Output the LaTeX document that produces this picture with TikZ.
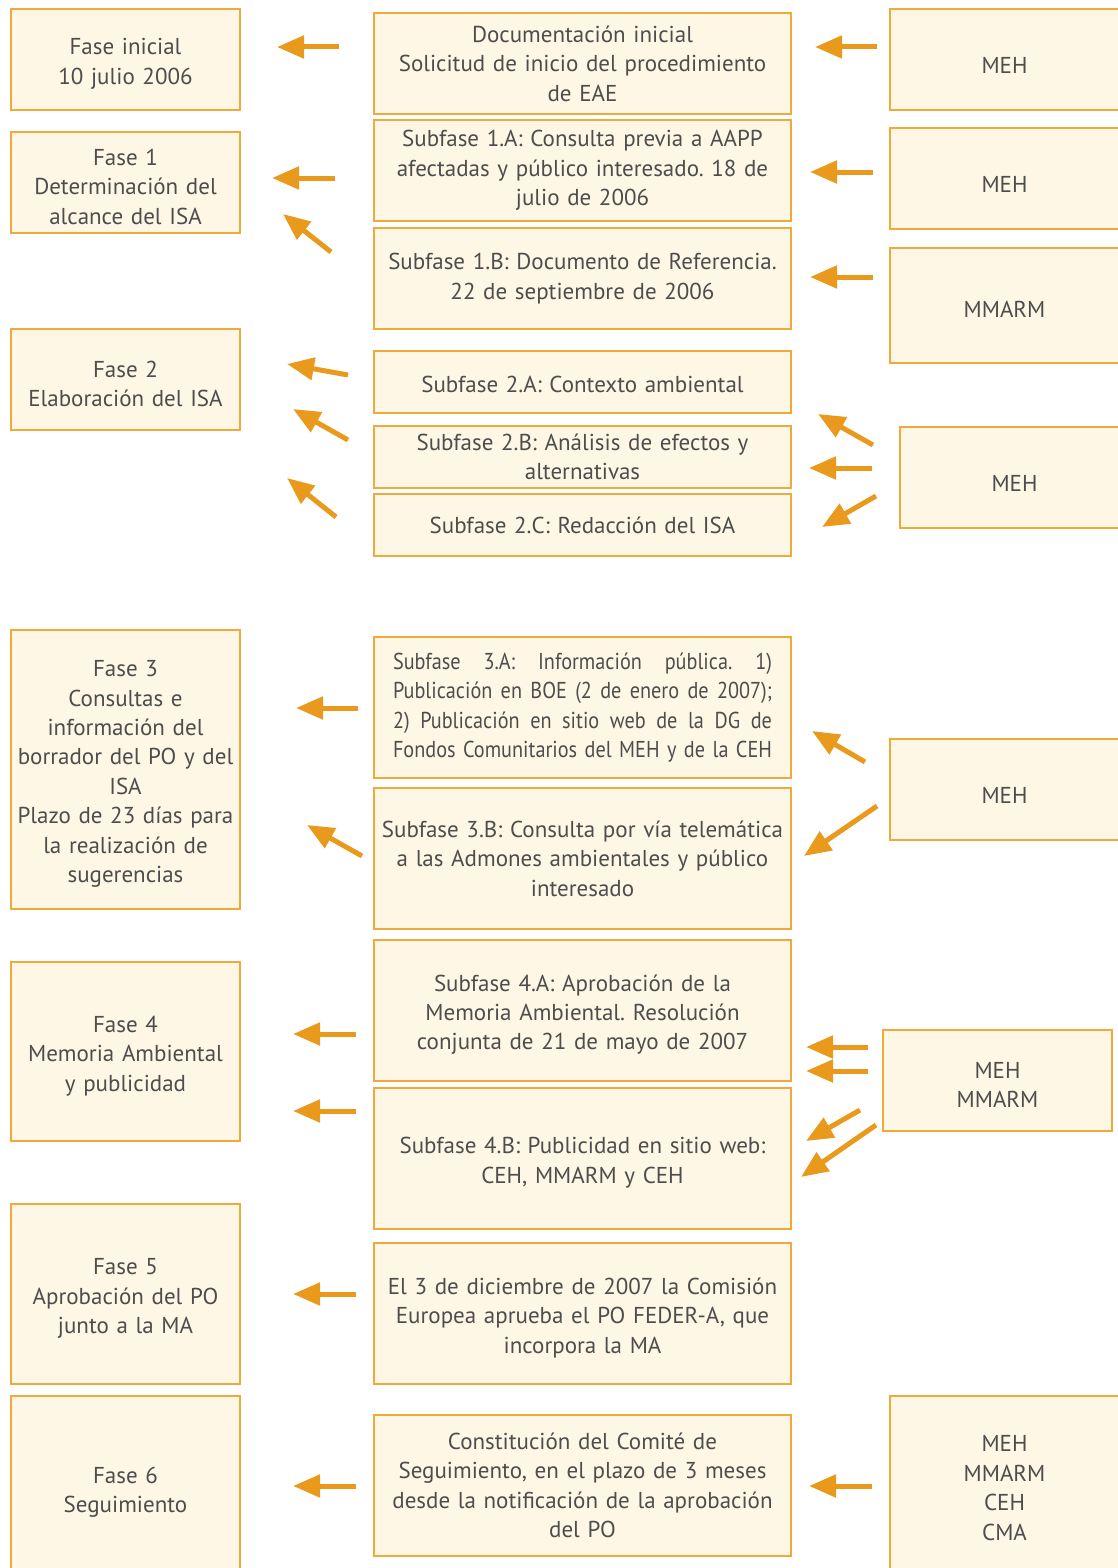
\documentclass[tikz,border=0pt]{standalone}
\usepackage{fontspec}
\setmainfont{PT Sans}
\newfontfamily\estrecha[FakeStretch=0.88]{PT Sans}
\usetikzlibrary{arrows.meta}
\definecolor{borde}{HTML}{F2A93B}
\definecolor{relleno}{HTML}{FEF7E5}
\definecolor{naranja}{HTML}{E99A1C}
\definecolor{texto}{HTML}{4D4D4D}
\frenchspacing
\newcommand\justa[1]{\leavevmode\hbox to 189.5pt{\spaceskip=0.25em plus 1fil\relax #1}}

\begin{document}
\begin{tikzpicture}[
    x=0.5pt, y=-0.5pt,
    caja/.style={rectangle, draw=borde, line width=0.75pt, fill=relleno, text=texto, inner sep=0pt, minimum width=114.5pt, font=\fontsize{11.5}{14.7}\selectfont},
    fase/.style={caja, text width=112pt, align=center},
    subfase/.style={caja, minimum width=208.5pt, text width=205pt, align=center},
    organo/.style={caja, text width=112pt, align=center},
    flechita/.style={draw=naranja, line width=2.5pt, -{Triangle[length=13.5pt, width=11pt]}}
]
\clip (0,0) rectangle (1118,1568);

% Fases
\node[fase, minimum height=50.5pt] (f0) at (125.5,59.5) {\rule{0pt}{12.5pt}Fase inicial\\10 julio 2006};
\node[fase, minimum height=50.5pt] (f1) at (125.5,182.5) {\rule{0pt}{12.5pt}Fase 1\\Determinación del\\alcance del ISA};
\node[fase, minimum height=50.5pt] (f2) at (125.5,379.5) {\rule{0pt}{12.5pt}Fase 2\\Elaboración del ISA};
\node[fase, minimum height=139.5pt] (f3) at (125.5,769.5) {\rule{0pt}{12.5pt}Fase 3\\Consultas e\\información del\\borrador del PO y del\\ISA\\Plazo de 23 días para\\la realización de\\sugerencias};
\node[fase, minimum height=89.5pt] (f4) at (125.5,1051.5) {\rule{0pt}{12.5pt}Fase 4\\Memoria Ambiental\\y publicidad};
\node[fase, minimum height=90pt] (f5) at (125.5,1294) {\rule{0pt}{12.5pt}Fase 5\\Aprobación del PO\\junto a la MA};
\node[fase, minimum height=92pt] (f6) at (125.5,1488) {\rule{0pt}{12.5pt}Fase 6\\Seguimiento};

% Subfases
\node[subfase, minimum height=50.5pt] (doc) at (582.5,63.5) {Documentación inicial\\Solicitud de inicio del procedimiento\\de EAE};
\node[subfase, minimum height=50.5pt] (s1a) at (582.5,170.5) {Subfase 1.A: Consulta previa a AAPP\\afectadas y público interesado. 18 de\\julio de 2006};
\node[subfase, minimum height=50.5pt] (s1b) at (582.5,278.5) {Subfase 1.B: Documento de Referencia.\\22 de septiembre de 2006};
\node[subfase, minimum height=31pt] (s2a) at (582.5,382) {\rule{0pt}{11pt}Subfase 2.A: Contexto ambiental};
\node[subfase, minimum height=31pt] (s2b) at (582.5,457) {Subfase 2.B: Análisis de efectos y\\alternativas};
\node[subfase, minimum height=31pt] (s2c) at (582.5,525) {Subfase 2.C: Redacción del ISA};
\node[subfase, minimum height=70.5pt] (s3a) at (582.5,707.5) {\estrecha
    \justa{Subfase 3.A: Información pública. 1)}\\
    \justa{Publicación en BOE (2 de enero de 2007);}\\
    \justa{2) Publicación en sitio web de la DG de}\\
    \justa{Fondos Comunitarios del MEH y de la CEH}};
\node[subfase, minimum height=70.5pt] (s3b) at (582.5,858.5) {Subfase 3.B: Consulta por vía telemática\\a las Admones ambientales y público\\interesado};
\node[subfase, minimum height=70.5pt] (s4a) at (582.5,1010.5) {\rule{0pt}{12.5pt}Subfase 4.A: Aprobación de la\\Memoria Ambiental. Resolución\\conjunta de 21 de mayo de 2007};
\node[subfase, minimum height=70.5pt] (s4b) at (582.5,1158.5) {\rule{0pt}{12.5pt}Subfase 4.B: Publicidad en sitio web:\\CEH, MMARM y CEH};
\node[subfase, minimum height=70.5pt] (s5) at (582.5,1313.5) {\rule{0pt}{12.5pt}El 3 de diciembre de 2007 la Comisión\\Europea aprueba el PO FEDER-A, que\\incorpora la MA};
\node[subfase, minimum height=70.5pt] (s6) at (582.5,1485.5) {Constitución del Comité de\\Seguimiento, en el plazo de 3 meses\\desde la notificación de la aprobación\\del PO};

% Organos
\node[organo, minimum height=50.5pt] (o0) at (1004.5,59.5) {\rule{0pt}{14pt}MEH};
\node[organo, minimum height=50.5pt] (o1) at (1004.5,178.5) {\rule{0pt}{14pt}MEH};
\node[organo, minimum height=57.5pt] (o2) at (1004.5,305.5) {\rule{0pt}{12pt}MMARM};
\node[organo, minimum height=50.5pt] (o3) at (1014.5,477.5) {\rule{0pt}{14pt}MEH};
\node[organo, minimum height=50.5pt] (o4) at (1004.5,789.5) {\rule{0pt}{14pt}MEH};
\node[organo, minimum height=50.5pt] (o5) at (997.5,1080.5) {\rule{0pt}{12.5pt}MEH\\MMARM};
\node[organo, minimum height=92pt] (o6) at (1004.5,1488) {MEH\\MMARM\\CEH\\CMA};

% Flechas
\foreach \xa/\ya/\xb/\yb [count=\i] in {
    339/47/277/47, 877/47/815/47,
    335/178/272/178, 331/252/283/214, 873/172/810/172, 873/277/810/277,
    348/375/287/364, 348/440/293/409, 336/517/287/478,
    873/445/818/414, 872/468/809/468, 876/496/822/527,
    358/708/296/708, 865/762/812/731, 362/856/307/825, 877/806/804/856,
    356/1034/293/1034, 356/1111/293/1111, 868/1047/806/1047, 868/1071/806/1071,
    860/1110/806/1141, 876/1125/801/1177,
    356/1294/293/1294,
    356/1486/293/1486, 872/1486/809/1486} {
    \coordinate (a\i) at (\xa,\ya);
    \coordinate (b\i) at (\xb,\yb);
    \draw[flechita] (a\i) -- (b\i);
}

\end{tikzpicture}
\end{document}
